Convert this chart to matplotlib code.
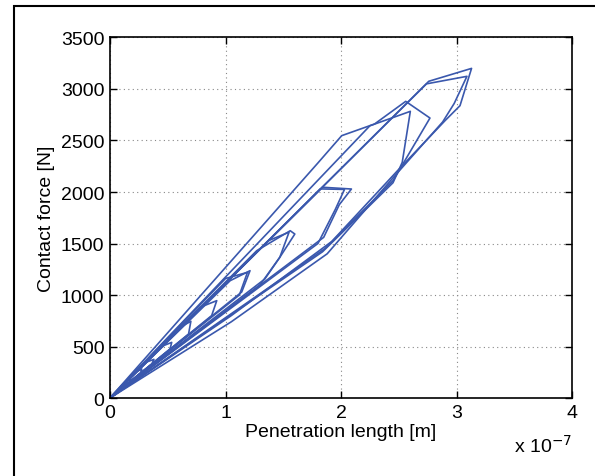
import matplotlib
matplotlib.use("Agg")
import matplotlib.pyplot as plt
from matplotlib.patches import Rectangle

plt.rcParams['font.family'] = ['Liberation Sans', 'DejaVu Sans']

# penetration in units of 1e-7 m, force in N; each loop starts and ends at the origin
loop_x = [
    [0, 2.76, 3.13, 3.03, 2.90, 2.50, 1.92, 1.05, 0],
    [0, 2.74, 3.09, 2.98, 2.88, 2.46, 1.88, 1.05, 0],
    [0, 1.80, 2.006, 2.29, 2.56, 2.77, 2.51, 2.45, 1.86, 0],
    [0, 2.25, 2.60, 2.53, 2.45, 1.84, 0],
    [0, 1.84, 2.09, 1.985, 1.85, 0],
    [0, 1.82, 2.03, 1.95, 1.80, 0],
    [0, 1.27, 1.56, 1.60, 1.47, 1.34, 0],
    [0, 1.37, 1.55, 1.47, 1.30, 0],
    [0, 1.04, 1.212, 1.14, 0],
    [0, 1.00, 1.19, 1.12, 0],
    [0, 0.78, 0.924, 0.88, 0],
    [0, 0.606, 0.70, 0.68, 0],
    [0, 0.462, 0.534, 0.52, 0],
    [0, 0.318, 0.38, 0.36, 0],
    [0, 0.23, 0.275, 0.265, 0],
    [0, 0.15, 0.18, 0.17, 0],
    [0, 0.09, 0.11, 0.105, 0],
]
loop_y = [
    [0, 3075, 3200, 2838, 2692, 2220, 1520, 800, 0],
    [0, 3050, 3123, 2860, 2680, 2150, 1400, 740, 0],
    [0, 2282, 2547, 2660, 2880, 2718, 2223, 2110, 1450, 0],
    [0, 2643, 2783, 2288, 2090, 1420, 0],
    [0, 2046, 2029, 1877, 1560, 0],
    [0, 2030, 2025, 1830, 1500, 0],
    [0, 1430, 1624, 1592, 1366, 1155, 0],
    [0, 1527, 1610, 1366, 1100, 0],
    [0, 1139, 1236, 1029, 0],
    [0, 1160, 1220, 1000, 0],
    [0, 881, 945, 800, 0],
    [0, 686, 745, 621, 0],
    [0, 508, 540, 476, 0],
    [0, 350, 375, 325, 0],
    [0, 255, 282, 245, 0],
    [0, 168, 185, 158, 0],
    [0, 100, 112, 96, 0],
]

x_ticks = [0, 1, 2, 3, 4]
y_ticks = [0, 500, 1000, 1500, 2000, 2500, 3000, 3500]

fig = plt.figure(figsize=(5.95, 4.77), dpi=100)
ax = fig.add_axes([0.1849, 0.1635, 0.7765, 0.7558])

for xs, ys in zip(loop_x, loop_y):
    ax.plot(xs, ys, color="#3a58ad", lw=1.2)

ax.set_xlim(0, 4)
ax.set_ylim(0, 3500)
ax.set_xticks(x_ticks)
ax.set_yticks(y_ticks)
ax.grid(True, linestyle=(0, (1, 3)), color="#888888", lw=0.8)
ax.tick_params(direction="in", top=True, right=True, length=5, width=1,
               labelsize=14, pad=4)
for s in ax.spines.values():
    s.set_linewidth(1.2)

ax.set_xlabel("Penetration length [m]", fontsize=14, labelpad=2)
ax.set_ylabel("Contact force [N]", fontsize=14, labelpad=4)
ax.text(1.0, -0.1, "x 10$^{-7}$", transform=ax.transAxes, ha="right",
        va="top", fontsize=14)

# figure frame
fig.patches.append(Rectangle((14 / 595, -0.1), 2, 0.985 + 0.1,
                             transform=fig.transFigure, fill=False,
                             edgecolor="black", lw=1.5))

plt.savefig("out.png", dpi=100)
